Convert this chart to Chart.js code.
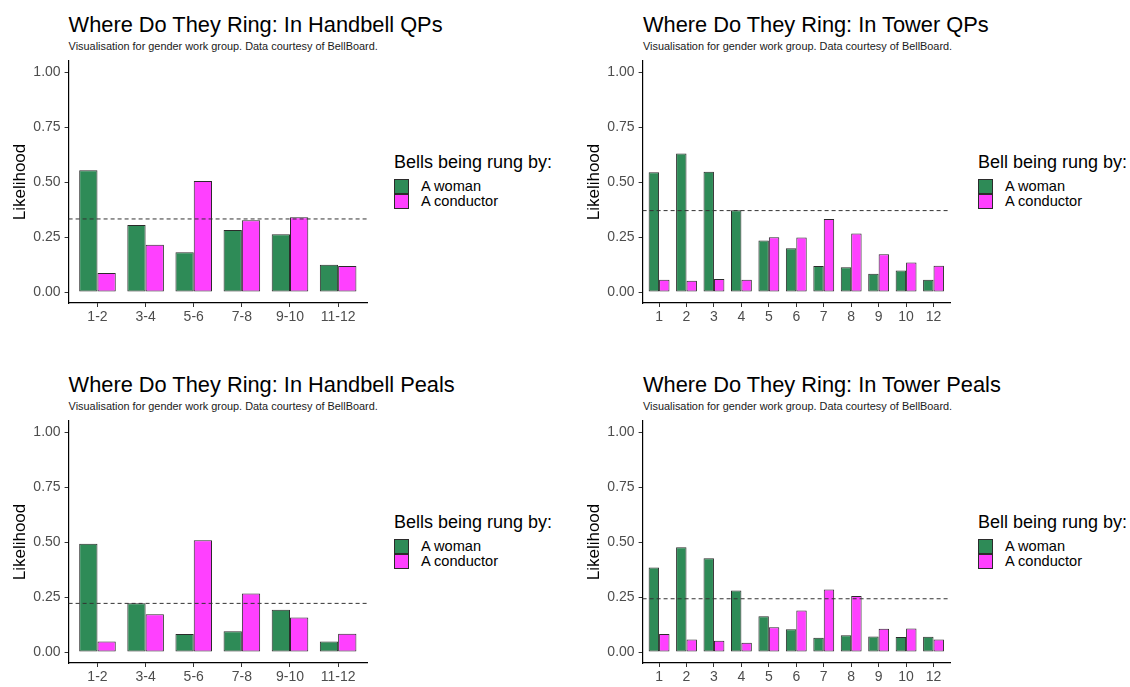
<!DOCTYPE html>
<html>
<head>
<meta charset="utf-8">
<title>Where Do They Ring</title>
<script src="https://cdn.jsdelivr.net/npm/chart.js@4.4.1/dist/chart.umd.min.js"></script>
<style>
  body { margin: 0; background: #fff; font-family: "Liberation Sans", Arial, sans-serif; }
  #page { position: relative; width: 1130px; height: 687px; overflow: hidden; }
  .title { position: absolute; font-size: 21.8px; line-height: 1; color: #000; white-space: nowrap; }
  .sub { position: absolute; font-size: 10.9px; line-height: 1; color: #1a1a1a; white-space: nowrap; }
  canvas { position: absolute; }
  .lg-title { position: absolute; font-size: 18px; line-height: 1; color: #000; white-space: nowrap; }
  .lg-key { position: absolute; width: 15px; height: 15px; box-sizing: border-box; border: 1px solid #2b2b2b; }
  .lg-label { position: absolute; font-size: 14.6px; line-height: 15px; color: #000; white-space: nowrap; }
</style>
</head>
<body>
<div id="page"></div>
<script>
// categories
const pairLabels = ['1-2', '3-4', '5-6', '7-8', '9-10', '11-12'];
const bellLabels = ['1', '2', '3', '4', '5', '6', '7', '8', '9', '10', '12'];
const yTicks = [0, 0.25, 0.5, 0.75, 1];
const seriesNames = ['A woman', 'A conductor'];

// handbell quarter peals
const handbellQpWoman     = [0.553, 0.305, 0.181, 0.282, 0.263, 0.124];
const handbellQpConductor = [0.086, 0.215, 0.505, 0.326, 0.340, 0.118];
const handbellQpMean = 0.332;

// tower quarter peals
const towerQpWoman     = [0.544, 0.630, 0.547, 0.372, 0.234, 0.199, 0.118, 0.112, 0.083, 0.098, 0.056];
const towerQpConductor = [0.056, 0.051, 0.059, 0.056, 0.249, 0.248, 0.332, 0.266, 0.172, 0.134, 0.119];
const towerQpMean = 0.370;

// handbell peals
const handbellPealWoman     = [0.492, 0.222, 0.082, 0.094, 0.192, 0.048];
const handbellPealConductor = [0.048, 0.172, 0.508, 0.266, 0.157, 0.083];
const handbellPealMean = 0.221;

// tower peals
const towerPealWoman     = [0.384, 0.476, 0.426, 0.279, 0.162, 0.103, 0.065, 0.076, 0.071, 0.068, 0.069];
const towerPealConductor = [0.082, 0.057, 0.051, 0.042, 0.113, 0.189, 0.284, 0.255, 0.106, 0.107, 0.057];
const towerPealMean = 0.242;

const subtitle = 'Visualisation for gender work group. Data courtesy of BellBoard.';
const GREEN = '#2E8B57';
const PINK = '#FF40FF';
const EDGE = '#2b2b2b';

Chart.defaults.font.family = '"Liberation Sans", Arial, sans-serif';

// dashed reference line across the panel
const meanLine = {
  id: 'meanLine',
  afterDatasetsDraw(chart, args, opts) {
    const { ctx, chartArea, scales } = chart;
    const y = scales.y.getPixelForValue(opts.value);
    ctx.save();
    ctx.setLineDash([4, 3]);
    ctx.strokeStyle = '#333';
    ctx.lineWidth = 1;
    ctx.beginPath();
    ctx.moveTo(chartArea.left, y);
    ctx.lineTo(chartArea.right, y);
    ctx.stroke();
    ctx.restore();
  }
};

const panels = [
  { title: 'Where Do They Ring: In Handbell QPs', legendTitle: 'Bells being rung by:',
    cats: pairLabels, woman: handbellQpWoman, conductor: handbellQpConductor, mean: handbellQpMean,
    top: 0, axisX: 68.6, axisEnd: 367, legendX: 394 },
  { title: 'Where Do They Ring: In Tower QPs', legendTitle: 'Bell being rung by:',
    cats: bellLabels, woman: towerQpWoman, conductor: towerQpConductor, mean: towerQpMean,
    top: 0, axisX: 643, axisEnd: 950, legendX: 978 },
  { title: 'Where Do They Ring: In Handbell Peals', legendTitle: 'Bells being rung by:',
    cats: pairLabels, woman: handbellPealWoman, conductor: handbellPealConductor, mean: handbellPealMean,
    top: 360, axisX: 68.6, axisEnd: 367, legendX: 394 },
  { title: 'Where Do They Ring: In Tower Peals', legendTitle: 'Bell being rung by:',
    cats: bellLabels, woman: towerPealWoman, conductor: towerPealConductor, mean: towerPealMean,
    top: 360, axisX: 643, axisEnd: 950, legendX: 978 }
];

const page = document.getElementById('page');

function addDiv(cls, text, left, top) {
  const d = document.createElement('div');
  d.className = cls;
  if (text) d.textContent = text;
  d.style.left = left + 'px';
  d.style.top = top + 'px';
  page.appendChild(d);
  return d;
}

panels.forEach(p => {
  addDiv('title', p.title, p.axisX, p.top + 13.6);
  addDiv('sub', subtitle, p.axisX, p.top + 40.8);

  // legend
  addDiv('lg-title', p.legendTitle, p.legendX, p.top + 153);
  [GREEN, PINK].forEach((col, i) => {
    const k = addDiv('lg-key', '', p.legendX, p.top + 179.3 + i * 15);
    k.style.background = col;
    addDiv('lg-label', seriesNames[i], p.legendX + 27, p.top + 179.3 + i * 15);
  });

  // chart canvas
  const padTop = 14, padRight = 8, yAxisW = 68.6;
  const left = p.axisX - yAxisW;
  const canvas = document.createElement('canvas');
  canvas.width = Math.round(p.axisEnd - left + padRight);
  canvas.height = Math.round(303 + 30 - 61 + padTop);
  canvas.style.left = left + 'px';
  canvas.style.top = (p.top + 61 - padTop) + 'px';
  page.appendChild(canvas);

  const n = p.cats.length;
  new Chart(canvas, {
    type: 'bar',
    data: {
      datasets: [
        { label: seriesNames[0], data: p.woman.map((v, i) => ({ x: i + 1, y: v })),
          backgroundColor: GREEN, borderColor: EDGE, borderWidth: 1, borderSkipped: false,
          categoryPercentage: 0.76, barPercentage: 1 },
        { label: seriesNames[1], data: p.conductor.map((v, i) => ({ x: i + 1, y: v })),
          backgroundColor: PINK, borderColor: EDGE, borderWidth: 1, borderSkipped: false,
          categoryPercentage: 0.76, barPercentage: 1 }
      ]
    },
    options: {
      responsive: false,
      animation: false,
      layout: { padding: { top: padTop, right: padRight, left: 0, bottom: 0 } },
      plugins: {
        legend: { display: false },
        tooltip: { enabled: false },
        meanLine: { value: p.mean }
      },
      scales: {
        x: {
          type: 'linear',
          min: 0.4,
          max: n + 0.6,
          offset: false,
          afterBuildTicks: s => { s.ticks = p.cats.map((c, i) => ({ value: i + 1 })); },
          afterFit: s => { s.height = 30; },
          ticks: {
            callback: (v, i) => p.cats[i],
            color: '#4d4d4d', font: { size: 14 }, padding: 2,
            maxRotation: 0, autoSkip: false
          },
          grid: { offset: false, drawOnChartArea: false, drawTicks: true, tickLength: 4, color: '#333', lineWidth: 1 },
          border: { display: true, color: '#000', width: 1.2 }
        },
        y: {
          min: -0.05,
          max: 1.05,
          afterBuildTicks: s => { s.ticks = yTicks.map(v => ({ value: v })); },
          afterFit: s => { s.width = yAxisW; },
          ticks: {
            callback: v => v.toFixed(2),
            color: '#4d4d4d', font: { size: 14 }, padding: 4
          },
          title: {
            display: true, text: 'Likelihood', color: '#000',
            font: { size: 17 }, padding: { top: 10, bottom: 0 }
          },
          grid: { drawOnChartArea: false, drawTicks: true, tickLength: 4, color: '#333', lineWidth: 1 },
          border: { display: true, color: '#000', width: 1.2 }
        }
      }
    },
    plugins: [meanLine]
  });
});
</script>
</body>
</html>
